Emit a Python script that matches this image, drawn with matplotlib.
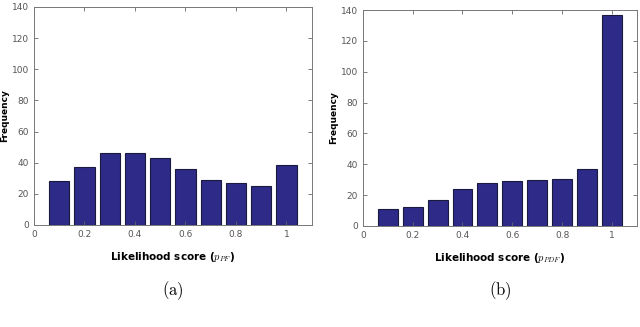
import matplotlib
matplotlib.use('Agg')
import matplotlib.pyplot as plt

plt.rcParams['mathtext.fontset'] = 'cm'

# bin centres and counts
centers = [0.1, 0.2, 0.3, 0.4, 0.5, 0.6, 0.7, 0.8, 0.9, 1.0]
freq_pf = [28, 37.5, 46, 46, 43, 36, 29, 27, 25, 38.5]
freq_ppdf = [11, 12.5, 17, 24, 28, 29, 29.5, 30.5, 37, 137]
xticks = [0, 0.2, 0.4, 0.6, 0.8, 1]
xticklabels = ['0', '0.2', '0.4', '0.6', '0.8', '1']
yticks = [0, 20, 40, 60, 80, 100, 120, 140]

fig = plt.figure(figsize=(6.4, 3.27), dpi=100)
ax1 = fig.add_axes([0.053, 0.312, 0.434, 0.667])
ax2 = fig.add_axes([0.567, 0.309, 0.428, 0.660])

def draw(ax, vals, sub, caption):
    ax.bar(centers, vals, width=0.08, color='#2E2A87', edgecolor='#1a1a40', linewidth=0.8)
    ax.set_xlim(0, 1.1)
    ax.set_ylim(0, 140)
    ax.set_xticks(xticks)
    ax.set_xticklabels(xticklabels)
    ax.set_yticks(yticks)
    ax.tick_params(direction='in', top=True, right=True, length=3, width=0.6,
                   labelsize=6.5, labelcolor='#555555', color='#666666')
    for s in ax.spines.values():
        s.set_color('#777777')
        s.set_linewidth(0.7)
    ax.set_ylabel('Frequency', fontsize=6.5, fontweight='bold', labelpad=2)
    ax.set_xlabel('Likelihood score ($p_{' + sub + '}$)', fontsize=7.5,
                  fontweight='bold', labelpad=8)
    ax.text(0.5, -0.30, caption, transform=ax.transAxes, ha='center', va='center',
            fontsize=12)

draw(ax1, freq_pf, 'PF', r'$\mathrm{(a)}$')
draw(ax2, freq_ppdf, 'PDF', r'$\mathrm{(b)}$')

fig.savefig('out.png', dpi=100)
